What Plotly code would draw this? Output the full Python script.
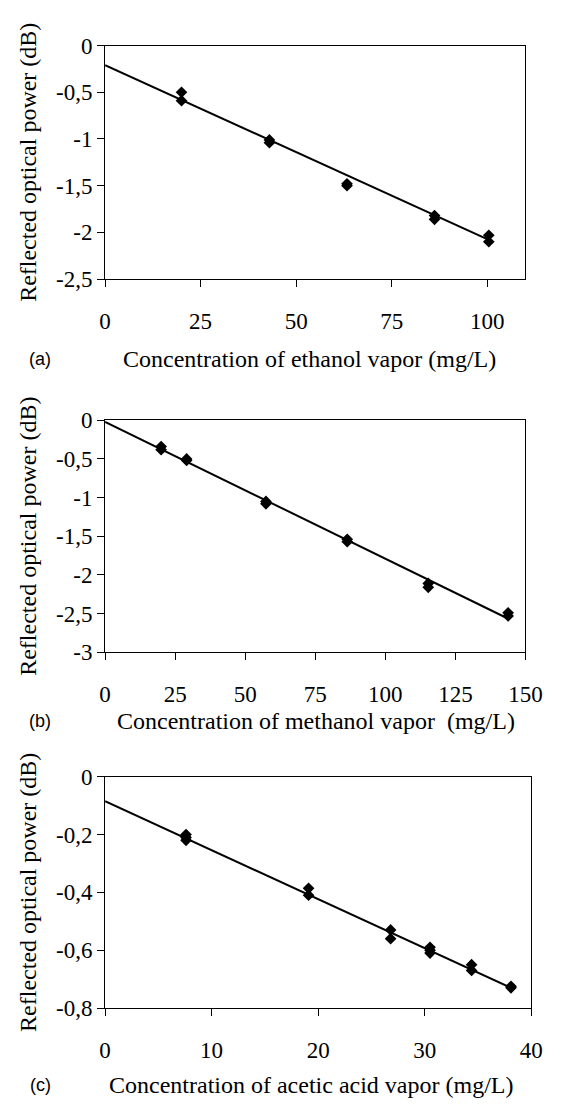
import plotly.graph_objects as go

# ---------------- data ----------------
# (a) ethanol
eth_x = [20, 20, 43, 43, 63.3, 63.3, 86.2, 86.2, 100.4, 100.4]
eth_y = [-0.50, -0.59, -1.01, -1.04, -1.48, -1.50, -1.82, -1.86, -2.03, -2.10]
eth_fit_x = [0, 100.4]
eth_fit_y = [-0.21, -2.08]

# (b) methanol
met_x = [20, 20, 29.1, 29.1, 57.4, 57.4, 86.4, 86.4, 115.3, 115.3, 143.8, 143.8]
met_y = [-0.34, -0.38, -0.50, -0.52, -1.05, -1.08, -1.54, -1.57, -2.11, -2.16, -2.49, -2.53]
met_fit_x = [0, 143.5]
met_fit_y = [-0.02, -2.56]

# (c) acetic acid
ace_x = [7.6, 7.6, 7.6, 19.1, 19.1, 26.8, 26.8, 30.5, 30.5, 30.5, 34.4, 34.4, 38.1, 38.1]
ace_y = [-0.20, -0.21, -0.22, -0.386, -0.41, -0.53, -0.56, -0.59, -0.60, -0.61,
         -0.65, -0.67, -0.725, -0.73]
ace_fit_x = [0, 38.1]
ace_fit_y = [-0.085, -0.73]

# ticks
a_xticks = [0, 25, 50, 75, 100]
a_xtext = ["0", "25", "50", "75", "100"]
a_yticks = [0, -0.5, -1, -1.5, -2, -2.5]
a_ytext = ["0", "-0,5", "-1", "-1,5", "-2", "-2,5"]

b_xticks = [0, 25, 50, 75, 100, 125, 150]
b_xtext = ["0", "25", "50", "75", "100", "125", "150"]
b_yticks = [0, -0.5, -1, -1.5, -2, -2.5, -3]
b_ytext = ["0", "-0,5", "-1", "-1,5", "-2", "-2,5", "-3"]

c_xticks = [0, 10, 20, 30, 40]
c_xtext = ["0", "10", "20", "30", "40"]
c_yticks = [0, -0.2, -0.4, -0.6, -0.8]
c_ytext = ["0", "-0,2", "-0,4", "-0,6", "-0,8"]

y_title = "Reflected optical power (dB)"
x_titles = ["Concentration of ethanol vapor (mg/L)",
            "Concentration of methanol vapor  (mg/L)",
            "Concentration of acetic acid vapor (mg/L)"]
panel_labels = ["(a)", "(b)", "(c)"]

# ---------------- layout geometry ----------------
W, H = 561, 1110
SERIF = "Liberation Serif"
SANS = "Liberation Sans"
TICK_SIZE = 23
TITLE_SIZE = 24

def px_x(p):
    return p / W

def px_y(p):
    return 1 - p / H

panels = [
    dict(x=eth_x, y=eth_y, fx=eth_fit_x, fy=eth_fit_y, xr=[0, 110], yr=[-2.5, 0],
         xt=a_xticks, xtt=a_xtext, yt=a_yticks, ytt=a_ytext,
         left=103.3, right=541.7, top=34.3, bottom=273.3, title_y=355),
    dict(x=met_x, y=met_y, fx=met_fit_x, fy=met_fit_y, xr=[0, 150], yr=[-3, 0],
         xt=b_xticks, xtt=b_xtext, yt=b_yticks, ytt=b_ytext,
         left=103.3, right=541.7, top=417.7, bottom=655, title_y=725),
    dict(x=ace_x, y=ace_y, fx=ace_fit_x, fy=ace_fit_y, xr=[0, 40], yr=[-0.8, 0],
         xt=c_xticks, xtt=c_xtext, yt=c_yticks, ytt=c_ytext,
         left=103.3, right=547.7, top=782.3, bottom=1019, title_y=1098),
]
title_cx = [316, 323, 319]

fig = go.Figure()
annotations = []
for i, p in enumerate(panels, start=1):
    xa = "x" if i == 1 else f"x{i}"
    ya = "y" if i == 1 else f"y{i}"
    fig.add_trace(go.Scatter(x=p["fx"], y=p["fy"], mode="lines",
                             line=dict(color="black", width=2),
                             xaxis=xa, yaxis=ya, showlegend=False, hoverinfo="skip"))
    fig.add_trace(go.Scatter(x=p["x"], y=p["y"], mode="markers",
                             marker=dict(symbol="diamond", size=9, color="black"),
                             xaxis=xa, yaxis=ya, showlegend=False))
    xkey = "xaxis" if i == 1 else f"xaxis{i}"
    ykey = "yaxis" if i == 1 else f"yaxis{i}"
    fig.layout[xkey] = go.layout.XAxis(
        domain=[px_x(p["left"]), px_x(p["right"])], range=p["xr"], anchor=ya,
        tickmode="array", tickvals=p["xt"], ticktext=p["xtt"], ticks="outside", ticklen=7,
        tickcolor="black", tickwidth=1, showline=True, linecolor="black", linewidth=1,
        mirror=True, showgrid=False, zeroline=False, ticklabelstandoff=14,
        tickfont=go.layout.xaxis.Tickfont(family=SERIF, size=TICK_SIZE, color="black"))
    fig.layout[ykey] = go.layout.YAxis(
        domain=[px_y(p["bottom"]), px_y(p["top"])], range=p["yr"], anchor=xa,
        tickmode="array", tickvals=p["yt"], ticktext=p["ytt"], ticks="outside", ticklen=7,
        tickcolor="black", tickwidth=1, showline=True, linecolor="black", linewidth=1,
        mirror=True, showgrid=False, zeroline=False,
        tickfont=go.layout.yaxis.Tickfont(family=SERIF, size=TICK_SIZE, color="black"))
    # y title
    annotations.append(dict(text=y_title, textangle=-90, xref="paper", yref="paper",
                            x=px_x(23.5), y=px_y((p["top"] + p["bottom"]) / 2),
                            xanchor="center", yanchor="middle", showarrow=False,
                            font=dict(family=SERIF, size=TITLE_SIZE, color="black")))
    # x title
    annotations.append(dict(text=x_titles[i - 1], xref="paper", yref="paper",
                            x=px_x(title_cx[i - 1]), y=px_y(p["title_y"]),
                            xanchor="center", yanchor="middle", showarrow=False,
                            font=dict(family=SERIF, size=TITLE_SIZE, color="black")))
    # panel label
    annotations.append(dict(text=panel_labels[i - 1], xref="paper", yref="paper",
                            x=px_x(35.5), y=px_y(p["title_y"]),
                            xanchor="center", yanchor="middle", showarrow=False,
                            font=dict(family=SANS, size=18, color="black")))

fig.update_layout(width=W, height=H, margin=dict(l=0, r=0, t=0, b=0),
                  font=dict(family=SERIF, size=TICK_SIZE, color="black"),
                  paper_bgcolor="white", plot_bgcolor="white",
                  annotations=annotations)

fig.write_html("out.html")
